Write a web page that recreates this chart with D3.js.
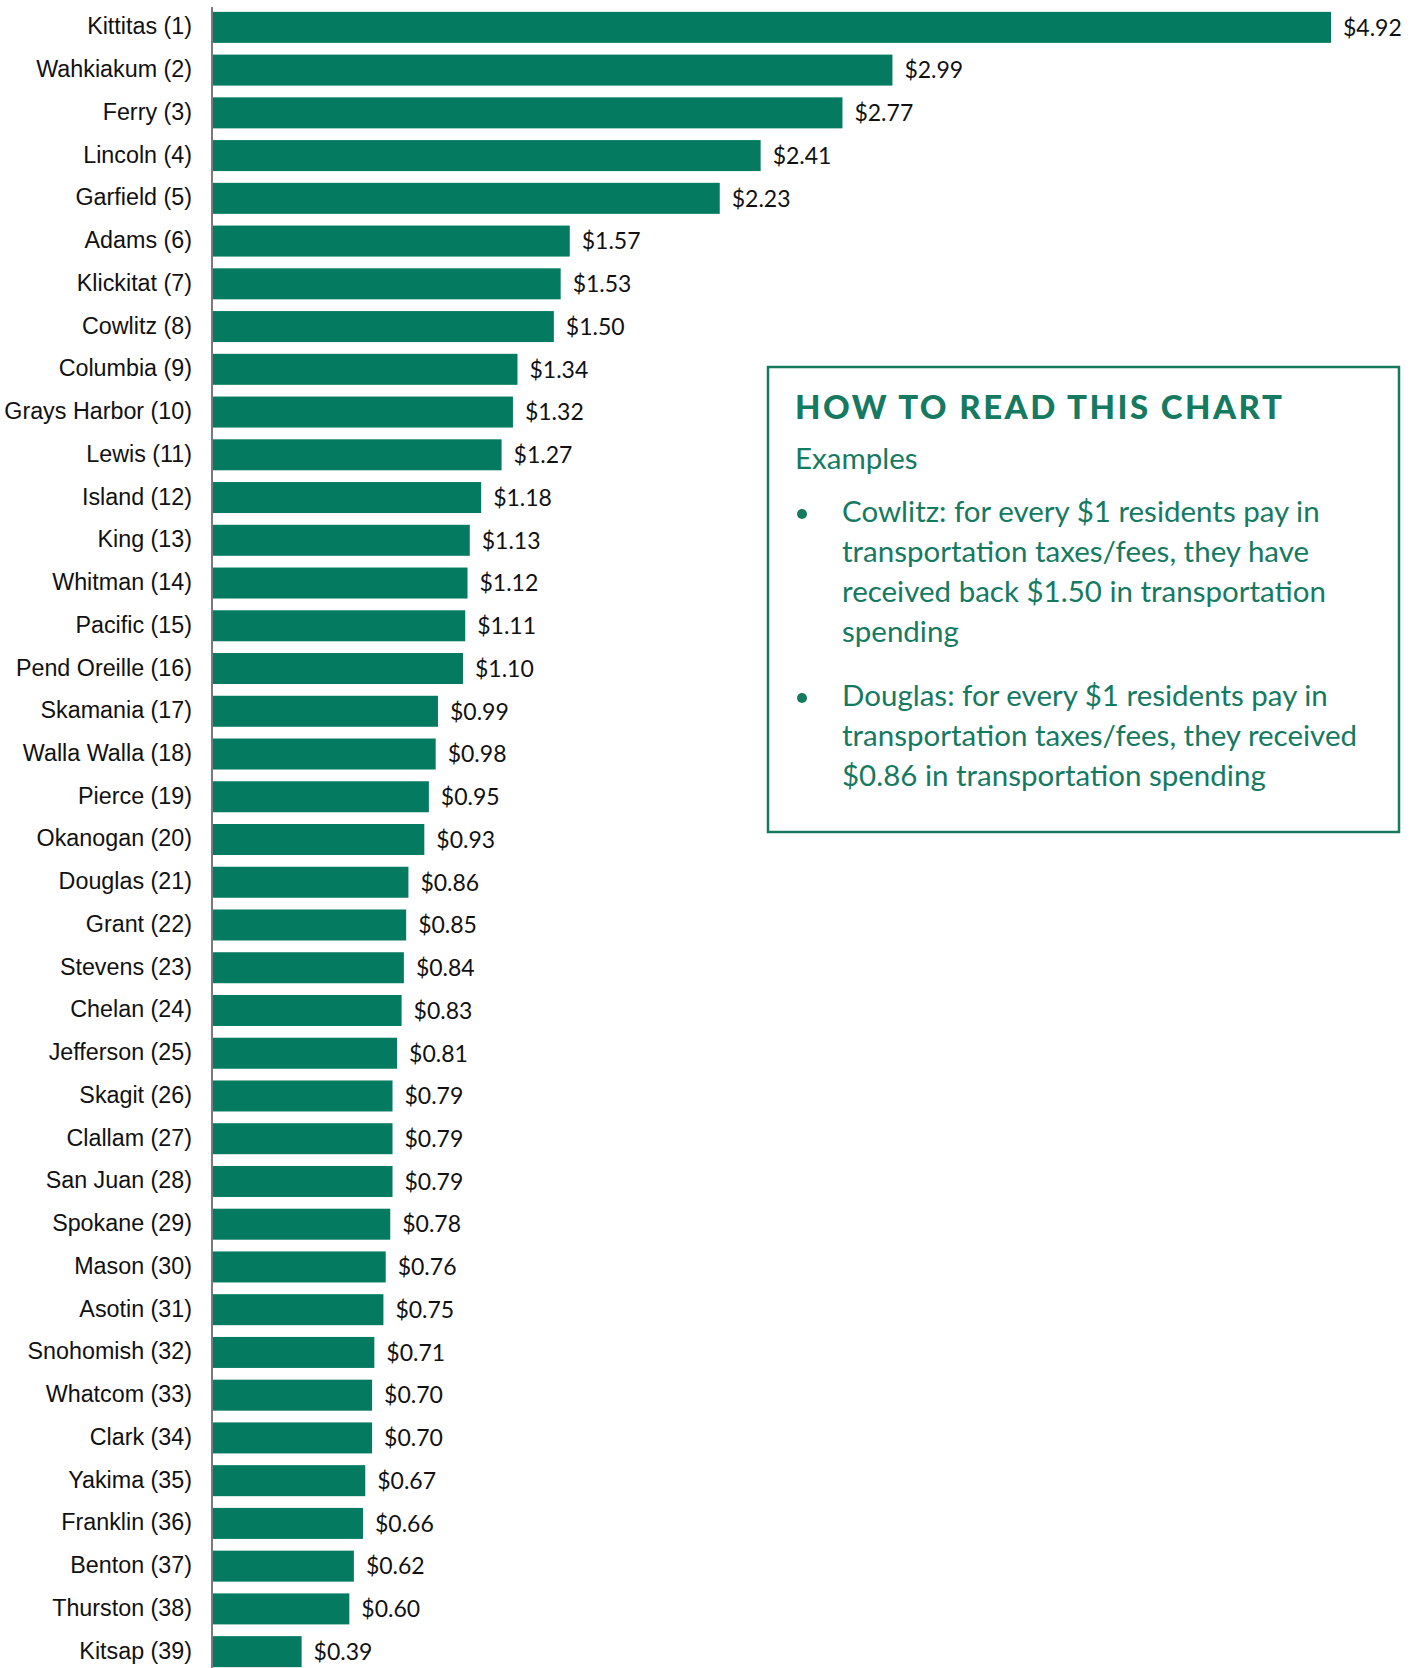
<!DOCTYPE html>
<html>
<head>
<meta charset="utf-8">
<script src="https://cdn.jsdelivr.net/npm/d3@7"></script>
<style>
  html, body { margin: 0; padding: 0; background: #fff; }
  svg { display: block; }
</style>
</head>
<body>
<svg id="chart" width="1416" height="1668"></svg>
<script>
const counties = ["Kittitas","Wahkiakum","Ferry","Lincoln","Garfield","Adams","Klickitat","Cowlitz","Columbia","Grays Harbor","Lewis","Island","King","Whitman","Pacific","Pend Oreille","Skamania","Walla Walla","Pierce","Okanogan","Douglas","Grant","Stevens","Chelan","Jefferson","Skagit","Clallam","San Juan","Spokane","Mason","Asotin","Snohomish","Whatcom","Clark","Yakima","Franklin","Benton","Thurston","Kitsap"];
const values = [4.92,2.99,2.77,2.41,2.23,1.57,1.53,1.50,1.34,1.32,1.27,1.18,1.13,1.12,1.11,1.10,0.99,0.98,0.95,0.93,0.86,0.85,0.84,0.83,0.81,0.79,0.79,0.79,0.78,0.76,0.75,0.71,0.70,0.70,0.67,0.66,0.62,0.60,0.39];
const boxTitle = "HOW TO READ THIS CHART";
const boxSubtitle = "Examples";
const bullet1 = ["Cowlitz: for every $1 residents pay in", "transportation taxes/fees, they have", "received back $1.50 in transportation", "spending"];
const bullet2 = ["Douglas: for every $1 residents pay in", "transportation taxes/fees, they received", "$0.86 in transportation spending"];

const data = counties.map((c, i) => ({ label: `${c} (${i + 1})`, value: values[i] }));

const svg = d3.select("#chart");
const green = "#047b60";
const boxGreen = "#157a5f";

const x = d3.scaleLinear().domain([0, 4.92]).range([213, 1331]);
const y = d3.scaleBand().domain(data.map(d => d.label)).range([6, 1673]).paddingInner(0.2747).paddingOuter(0.137);

svg.append("g").selectAll("rect").data(data).join("rect")
  .attr("x", x(0))
  .attr("y", d => y(d.label))
  .attr("width", d => x(d.value) - x(0))
  .attr("height", y.bandwidth())
  .attr("fill", green);

// axis line
svg.append("line")
  .attr("x1", 212).attr("x2", 212)
  .attr("y1", 7).attr("y2", 1668)
  .attr("stroke", "#7a7a7a").attr("stroke-width", 2);

svg.append("g").selectAll("text").data(data).join("text")
  .attr("x", 192)
  .attr("y", d => y(d.label) + y.bandwidth() / 2)
  .attr("dy", "0.3em")
  .attr("text-anchor", "end")
  .attr("font-family", "'Liberation Sans', Arial, sans-serif")
  .attr("font-size", 23.3)
  .attr("fill", "#111")
  .text(d => d.label);

svg.append("g").selectAll("text").data(data).join("text")
  .attr("x", d => x(d.value) + 12)
  .attr("y", d => y(d.label) + y.bandwidth() / 2)
  .attr("dy", "0.36em")
  .attr("font-family", "Lato, sans-serif")
  .attr("font-size", 23)
  .attr("fill", "#111")
  .text(d => "$" + d3.format(".2f")(d.value));

// Explanation box
const box = svg.append("g");
box.append("rect")
  .attr("x", 768).attr("y", 367).attr("width", 631).attr("height", 465)
  .attr("fill", "#fff").attr("stroke", boxGreen).attr("stroke-width", 2.5);

box.append("text")
  .attr("x", 795).attr("y", 419)
  .attr("font-family", "Lato, sans-serif").attr("font-weight", 900)
  .attr("font-size", 33).attr("letter-spacing", 2.45)
  .attr("fill", boxGreen).text(boxTitle);

box.append("text")
  .attr("x", 795).attr("y", 469)
  .attr("font-family", "Lato, sans-serif")
  .attr("font-size", 29.5)
  .attr("fill", boxGreen).text(boxSubtitle);

function bullet(lines, baseline) {
  box.append("circle").attr("cx", 802).attr("cy", baseline - 8).attr("r", 5).attr("fill", boxGreen);
  box.selectAll(null).data(lines).join("text")
    .attr("x", 842)
    .attr("y", (d, i) => baseline + i * 40)
    .attr("font-family", "Lato, sans-serif")
    .attr("font-size", 29.5)
    .attr("fill", boxGreen)
    .text(d => d);
}
bullet(bullet1, 522);
bullet(bullet2, 706);
</script>
</body>
</html>
